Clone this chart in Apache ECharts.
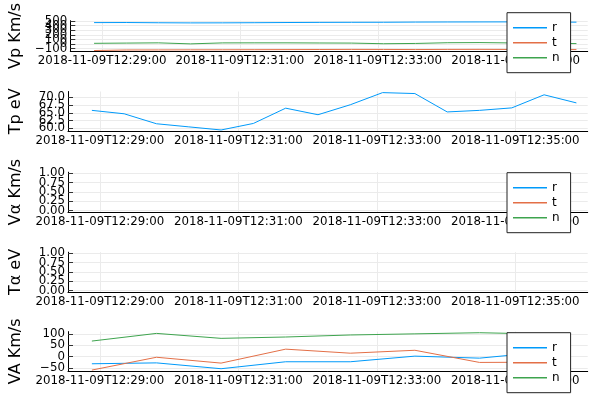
<!DOCTYPE html>
<html><head><meta charset="utf-8">
<script src="https://cdn.jsdelivr.net/npm/echarts@6/dist/echarts.min.js"></script>
<style>html,body{margin:0;padding:0;background:#fff}#c{width:600px;height:400px}</style>
</head><body><div id="c"></div>
<script>
// ---- data ----
const times = ['2018-11-09T12:28:53','2018-11-09T12:29:21','2018-11-09T12:29:49','2018-11-09T12:30:17',
  '2018-11-09T12:30:45','2018-11-09T12:31:13','2018-11-09T12:31:41','2018-11-09T12:32:09',
  '2018-11-09T12:32:37','2018-11-09T12:33:05','2018-11-09T12:33:33','2018-11-09T12:34:01',
  '2018-11-09T12:34:29','2018-11-09T12:34:57','2018-11-09T12:35:25','2018-11-09T12:35:53'];
const vaTimes = ['2018-11-09T12:28:53','2018-11-09T12:29:49','2018-11-09T12:30:45','2018-11-09T12:31:41',
  '2018-11-09T12:32:37','2018-11-09T12:33:33','2018-11-09T12:34:29','2018-11-09T12:35:25'];
const vpR = [468, 470, 465, 462, 463, 466, 470, 473, 475, 476, 480, 482, 483, 484, 481, 478];
const vpT = [-140, -128, -127, -125, -124, -122, -120, -118, -116, -117, -119, -116, -115, -117, -118, -120];
const vpN = [17, 22, 27, 5, 26, 27, 27, 24, 22, 8, 14, 30, 33, 25, 18, 11];
const tp = [65.8, 64.7, 61.5, 60.5, 59.5, 61.6, 66.5, 64.4, 67.6, 71.5, 71.2, 65.3, 65.8, 66.6, 70.8, 68.2];
const vaR = [-32, -28, -54, -23, -23, 2, -7, 20];
const vaT = [-60, -3, -29, 33, 15, 28, -26, -25];
const vaN = [69, 103, 81, 87, 96, 101, 106, 100];
const xTickLabels = ['2018-11-09T12:29:00','2018-11-09T12:31:00','2018-11-09T12:33:00','2018-11-09T12:35:00'];
const vpTicks = [-100, 0, 100, 200, 300, 400, 500];
const tpTicks = [60, 62.5, 65, 67.5, 70];
const unitTicks = [0, 0.25, 0.5, 0.75, 1];
const vaTicks = [-50, 0, 50, 100];
const legendNames = ['r', 't', 'n'];
const panelTitles = ['Vp Km/s', 'Tp eV', 'Vα Km/s', 'Tα eV', 'VA Km/s'];

// ---- layout / style ----
const colors = {r:'#009AFA', t:'#E36F47', n:'#3EA44E'};
const FONT = 'DejaVu Sans';
const toMs = s => Date.parse(s + 'Z');
const xMin = Date.parse('2018-11-09T12:28:32.300Z');
const xMax = Date.parse('2018-11-09T12:36:02.800Z');
const xTicks = xTickLabels.map(toMs);
const tops = [11.7, 91.5, 172.2, 252.2, 331.6];
const H = 39.6;
const yRanges = [[-157, 510], [59.14, 71.86], [-0.03, 1.03], [-0.03, 1.03], [-65, 111]];
const yTicks = [vpTicks, tpTicks, unitTicks, unitTicks, vaTicks];
const fmtRaw = [v => String(v).replace('-', '\u2212'), v => v.toFixed(1), v => v.toFixed(2), v => v.toFixed(2), v => String(v).replace('-', '\u2212')];

const grid = tops.map(t => ({left: 68, right: 12.3, top: t, height: H, containLabel: false}));
const GRIDC = '#ebebeb';
const xAxis = tops.map((t, i) => ({
  gridIndex: i, type: 'value', min: xMin, max: xMax,
  axisLine: {onZero: false, lineStyle: {color: '#000', width: 1}},
  axisTick: {show: false, customValues: xTicks},
  axisLabel: {customValues: xTicks, interval: 0, color: '#000', fontSize: 11.8, fontFamily: FONT, margin: 4,
    showMinLabel: true, showMaxLabel: true, hideOverlap: false,
    formatter: v => new Date(v).toISOString().slice(0, 19)},
  splitLine: {show: true, interval: 0, lineStyle: {color: GRIDC, width: 1}}
}));
// axis ends are added as hidden guard entries so that all real tick labels stay visible
const yAxis = tops.map((t, i) => {
  const vals = [yRanges[i][0]].concat(yTicks[i], [yRanges[i][1]]);
  const lineColors = vals.map((v, k) => (k === 0 || k === vals.length - 1) ? 'rgba(0,0,0,0)' : GRIDC);
  return {
    gridIndex: i, type: 'value', min: yRanges[i][0], max: yRanges[i][1],
    name: panelTitles[i], nameLocation: 'middle', nameGap: 44,
    nameTextStyle: {fontSize: 16, color: '#000', fontFamily: FONT},
    axisLine: {show: true, onZero: false, lineStyle: {color: '#000', width: 1}},
    axisTick: {show: true, inside: true, length: 5, interval: 0, customValues: vals, lineStyle: {color: '#333', width: 1}},
    axisLabel: {customValues: vals, interval: 0, formatter: fmtRaw[i], margin: 3,
      color: '#000', fontSize: 11.8, fontFamily: FONT,
      showMinLabel: false, showMaxLabel: false, hideOverlap: false},
    splitLine: {show: true, interval: 0, lineStyle: {color: lineColors, width: 1}}
  };
});

function line(name, xi, ts, vals, col) {
  const c = col || colors[name];
  return {name, type: 'line', xAxisIndex: xi, yAxisIndex: xi, symbol: 'none', animation: false,
    data: ts.map((t, k) => [toMs(t), vals[k]]),
    lineStyle: {color: c, width: 1}, itemStyle: {color: c}};
}
const series = [
  line('r', 0, times, vpR), line('t', 0, times, vpT), line('n', 0, times, vpN),
  line('y1', 1, times, tp, colors.r),
  line('r', 2, [], []), line('t', 2, [], []), line('n', 2, [], []),
  line('r', 4, vaTimes, vaR), line('t', 4, vaTimes, vaT), line('n', 4, vaTimes, vaN)
];

const legendAt = top => ({
  left: 507, top: top, orient: 'vertical', data: legendNames, selectedMode: false,
  icon: 'rect', itemWidth: 34, itemHeight: 1.4, itemGap: 0, padding: [7.5, 11, 7.5, 6],
  backgroundColor: '#fff', borderColor: '#222', borderWidth: 1,
  textStyle: {fontSize: 12, color: '#000', fontFamily: FONT, lineHeight: 15}
});

const chart = echarts.init(document.getElementById('c'), null, {renderer: 'canvas'});
chart.setOption({
  animation: false, backgroundColor: '#fff',
  textStyle: {fontFamily: FONT},
  grid, xAxis, yAxis, series,
  legend: [legendAt(12.7), legendAt(172.7), legendAt(332.7)]
});
</script></body></html>
